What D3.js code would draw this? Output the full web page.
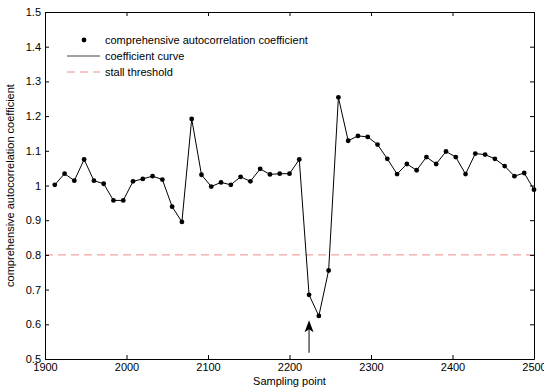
<!DOCTYPE html>
<html>
<head>
<meta charset="utf-8">
<script src="https://cdn.jsdelivr.net/npm/d3@7"></script>
<style>
  html, body { margin: 0; padding: 0; background: #fff; }
  svg text { font-family: "Liberation Sans", Arial, sans-serif; fill: #000; }
</style>
</head>
<body>
<div id="chart"></div>
<script>
// sampling points, one every 12 samples
const samples = d3.range(1912, 2501, 12);
const coeff = [
  1.002, 1.034, 1.014, 1.075, 1.014, 1.005, 0.957, 0.957, 1.012, 1.019,
  1.027, 1.017, 0.939, 0.895, 1.192, 1.031, 0.997, 1.009, 1.002, 1.025,
  1.012, 1.048, 1.032, 1.034, 1.034, 1.075, 0.685, 0.624, 0.755, 1.254,
  1.129, 1.143, 1.140, 1.118, 1.077, 1.033, 1.062, 1.044, 1.082, 1.062,
  1.098, 1.082, 1.033, 1.092, 1.089, 1.077, 1.056, 1.027, 1.036, 0.988
];
const threshold = 0.8;
const xTicks = [1900, 2000, 2100, 2200, 2300, 2400, 2500];
const yTicks = [0.5, 0.6, 0.7, 0.8, 0.9, 1, 1.1, 1.2, 1.3, 1.4, 1.5];
const arrowX = 2224, arrowFrom = 0.518, arrowTo = 0.612;

const W = 544, H = 390;
const margin = { top: 12, right: 10, bottom: 31, left: 45 };
const width = W - margin.left - margin.right;
const height = H - margin.top - margin.bottom;

const svg = d3.select('#chart').append('svg')
  .attr('width', W).attr('height', H);

const g = svg.append('g')
  .attr('transform', `translate(${margin.left},${margin.top})`);

const x = d3.scaleLinear().domain([1900, 2500]).range([0, width]);
const y = d3.scaleLinear().domain([0.5, 1.5]).range([height, 0]);

const dashColor = '#ef8080';

// threshold line
g.append('line')
  .attr('x1', 0).attr('x2', width)
  .attr('y1', y(threshold)).attr('y2', y(threshold))
  .attr('stroke', dashColor).attr('stroke-width', 0.9).attr('stroke-dasharray', '8,5');

// coefficient curve
const line = d3.line().x((d, i) => x(samples[i])).y(d => y(d));
g.append('path').datum(coeff)
  .attr('fill', 'none').attr('stroke', '#000').attr('stroke-width', 1)
  .attr('d', line);

g.selectAll('circle.pt').data(coeff).enter().append('circle')
  .attr('class', 'pt')
  .attr('cx', (d, i) => x(samples[i])).attr('cy', d => y(d))
  .attr('r', 2.4).attr('fill', '#000');

// arrow annotation
const ax = x(arrowX), ay0 = y(arrowFrom), ay1 = y(arrowTo);
g.append('line')
  .attr('x1', ax).attr('x2', ax).attr('y1', ay0).attr('y2', ay1 + 8)
  .attr('stroke', '#000').attr('stroke-width', 1);
g.append('path')
  .attr('d', `M${ax},${ay1} L${ax + 4.5},${ay1 + 12} L${ax},${ay1 + 9} L${ax - 4.5},${ay1 + 12} Z`)
  .attr('fill', '#000');

// axes (ticks inward, box)
const tickFmt = d => d3.format('')(d);
const axL = g.append('g').call(d3.axisLeft(y).tickValues(yTicks).tickSizeInner(-4).tickSizeOuter(0).tickPadding(8).tickFormat(tickFmt));
const axR = g.append('g').attr('transform', `translate(${width},0)`)
  .call(d3.axisRight(y).tickValues(yTicks).tickSizeInner(-4).tickSizeOuter(0).tickFormat(''));
const axB = g.append('g').attr('transform', `translate(0,${height})`)
  .call(d3.axisBottom(x).tickValues(xTicks).tickSizeInner(-4).tickSizeOuter(0).tickPadding(8).tickFormat(d3.format('d')));
const axT = g.append('g')
  .call(d3.axisTop(x).tickValues(xTicks).tickSizeInner(-4).tickSizeOuter(0).tickFormat(''));

[axL, axR, axB, axT].forEach(a => {
  a.selectAll('path, line').attr('stroke', '#000');
  a.selectAll('text').style('font-size', '11px').attr('fill', '#000');
});
axL.selectAll('text').attr('dx', '4px');
axB.selectAll('text').attr('dy', '0.35em');

// axis labels
g.append('text')
  .attr('x', width / 2).attr('y', height + 26)
  .attr('text-anchor', 'middle').style('font-size', '11px')
  .text('Sampling point');
g.append('text')
  .attr('transform', `translate(${-31},${height / 2}) rotate(-90)`)
  .attr('text-anchor', 'middle').style('font-size', '11px')
  .text('comprehensive autocorrelation coefficient');

// legend
const leg = g.append('g').attr('transform', `translate(${67 - margin.left},${40 - margin.top})`);
leg.append('circle').attr('cx', 17).attr('cy', 0).attr('r', 2.4).attr('fill', '#000');
leg.append('line').attr('x1', 0).attr('x2', 33).attr('y1', 16).attr('y2', 16)
  .attr('stroke', '#444');
leg.append('line').attr('x1', 0).attr('x2', 33).attr('y1', 32).attr('y2', 32)
  .attr('stroke', dashColor).attr('stroke-width', 0.9).attr('stroke-dasharray', '8,5');
const legText = ['comprehensive autocorrelation coefficient', 'coefficient curve', 'stall threshold'];
leg.selectAll('text.lt').data(legText).enter().append('text')
  .attr('class', 'lt')
  .attr('x', 38).attr('y', (d, i) => i * 16).attr('dy', '0.35em')
  .style('font-size', '11px')
  .text(d => d);
</script>
</body>
</html>
